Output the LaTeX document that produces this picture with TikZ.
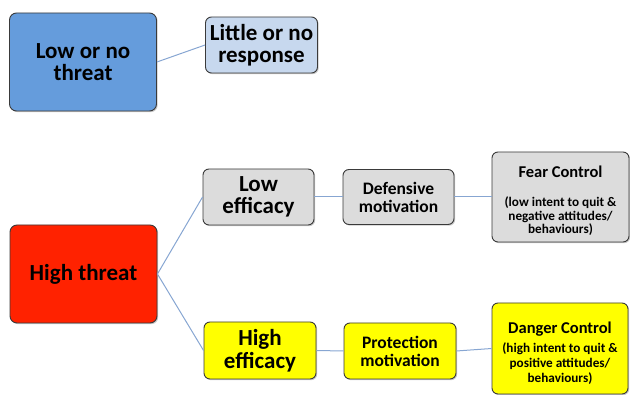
\documentclass[tikz,border=0pt]{standalone}
\usepackage{fontspec}
\setmainfont{Carlito}
\usetikzlibrary{shadows}
\definecolor{cblue}{HTML}{659CDC}
\definecolor{clblue}{HTML}{C7D8EE}
\definecolor{cred}{HTML}{FF2200}
\definecolor{cyel}{HTML}{FFFF00}
\definecolor{cgray}{HTML}{DCDCDC}
\definecolor{cline}{HTML}{87A6D2}
\definecolor{cborder}{HTML}{3A3A3A}
\tikzset{
  box/.style={draw=cborder, line width=0.9pt, rounded corners=7pt, align=center,
    inner sep=1pt, font=\bfseries, drop shadow={shadow xshift=1.2pt, shadow yshift=-1.2pt, opacity=0.35, fill=black!60}},
  bigtxt/.style={font=\bfseries\fontsize{23}{22.5}\selectfont},
  midtxt/.style={font=\bfseries\fontsize{17.5}{18}\selectfont},
  conn/.style={draw=cline, line width=1pt}
}
\newcommand{\ttl}[1]{{\fontsize{16.5}{20}\selectfont\rule{0pt}{20pt}#1}}
\begin{document}
\begin{tikzpicture}[x=1pt,y=-1pt]
\useasboundingbox (0,0) rectangle (630,395);
\node[box, bigtxt, fill=cblue, minimum width=147pt, minimum height=98pt] (low) at (83,62) {Low or no\\threat};
\node[box, bigtxt, fill=clblue, minimum width=112pt, minimum height=56pt, rounded corners=6pt] (little) at (261.5,45) {Little or no\\response};
\node[box, bigtxt, fill=cred, minimum width=147pt, minimum height=98pt] (high) at (83.5,274) {High threat};
\node[box, bigtxt, fill=cgray, minimum width=111pt, minimum height=56pt, rounded corners=6pt] (loweff) at (258.5,197) {Low\\efficacy};
\node[box, midtxt, fill=cgray, minimum width=111pt, minimum height=55pt, rounded corners=6pt] (def) at (398.5,197) {Defensive\\motivation};
\node[box, font=\bfseries\fontsize{13.2}{13.5}\selectfont, fill=cgray, minimum width=137pt, minimum height=90pt, rounded corners=6pt] (fear) at (560.5,197) {\ttl{Fear Control}\\[15.5pt](low intent to quit \&\\negative attitudes/\\behaviours)};
\node[box, bigtxt, fill=cyel, minimum width=112pt, minimum height=57pt, rounded corners=6pt] (higheff) at (260,350.5) {High\\efficacy};
\node[box, midtxt, fill=cyel, minimum width=112pt, minimum height=56pt, rounded corners=6pt] (prot) at (400,351) {Protection\\motivation};
\node[box, font=\bfseries\fontsize{13.2}{15}\selectfont, fill=cyel, minimum width=136pt, minimum height=91pt, rounded corners=6pt] (danger) at (560,348.5) {{\fontsize{16.5}{20}\selectfont\rule{0pt}{21pt}Danger Control}\\[5pt](high intent to quit \&\\positive attitudes/\\behaviours)};
\draw[conn] (low.east) -- (little.west);
\draw[conn] (high.east) -- (loweff.west);
\draw[conn] (high.east) -- (higheff.west);
\draw[conn] (loweff.east) -- (def.west);
\draw[conn] (def.east) -- (fear.west);
\draw[conn] (higheff.east) -- (prot.west);
\draw[conn] (prot.east) -- (danger.west);
\end{tikzpicture}
\end{document}
